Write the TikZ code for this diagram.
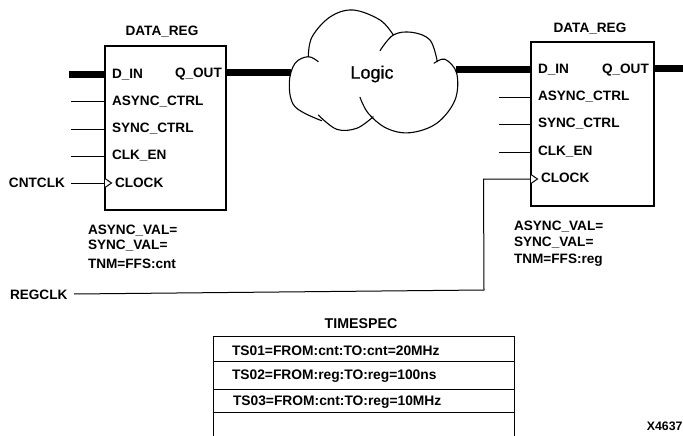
\documentclass[tikz,border=0pt]{standalone}
\usepackage{fontspec}
\setmainfont{Liberation Sans}
\newfontfamily\logicfont[FakeBold=0.6]{Liberation Sans}
\tikzset{
  regbox/.style={draw,line width=1.1pt,inner sep=0pt,outer sep=0pt},
  lbl/.style={inner sep=0pt,outer sep=0pt,anchor=west,font=\fontsize{13.6}{15}\selectfont\bfseries},
  ctr/.style={lbl,anchor=center},
  bus/.style={line width=7pt},
  wire/.style={line width=1pt},
  rowbox/.style={draw,line width=1pt,inner sep=0pt,outer sep=0pt,minimum width=301pt},
  tslbl/.style={inner sep=0pt,outer sep=0pt,anchor=west,font=\fontsize{13.8}{15}\selectfont\bfseries},
  cloudline/.style={line width=1.1pt,line cap=round},
}
\begin{document}
\begin{tikzpicture}[x=1pt,y=-1pt]
\clip (0,0) rectangle (683,436);
\fill[white] (0,0) rectangle (683,436);
% register boxes
\node[regbox,minimum width=121pt,minimum height=164pt] (regA) at (165.5,128) {};
\node[regbox,minimum width=123pt,minimum height=164pt] (regB) at (592.5,124) {};
\node[ctr] (titleA) at (162,32) {DATA\_REG};
\node[ctr] (titleB) at (590,29) {DATA\_REG};
% left register labels
\node[lbl] (aD) at (112,75) {D\_IN};
\node[lbl] (aQ) at (175,74) {Q\_OUT};
\node[lbl] (aA) at (112,102) {ASYNC\_CTRL};
\node[lbl] (aS) at (112,129) {SYNC\_CTRL};
\node[lbl] (aE) at (112,156) {CLK\_EN};
\node[lbl] (aC) at (115,183) {CLOCK};
\node[lbl] (aV1) at (88,231) {ASYNC\_VAL=};
\node[lbl] (aV2) at (88,246) {SYNC\_VAL=};
\node[lbl] (aV3) at (88,264) {TNM=FFS:cnt};
% right register labels
\node[lbl] (bD) at (538,70) {D\_IN};
\node[lbl] (bQ) at (602,70) {Q\_OUT};
\node[lbl] (bA) at (538,97) {ASYNC\_CTRL};
\node[lbl] (bS) at (538,124) {SYNC\_CTRL};
\node[lbl] (bE) at (538,152) {CLK\_EN};
\node[lbl] (bC) at (541,178) {CLOCK};
\node[lbl] (bV1) at (514,227) {ASYNC\_VAL=};
\node[lbl] (bV2) at (514,243) {SYNC\_VAL=};
\node[lbl] (bV3) at (514,260) {TNM=FFS:reg};
% external labels
\node[lbl] (cnt) at (9,183) {CNTCLK};
\node[lbl] (regclk) at (10,295) {REGCLK};
% cloud
\node[inner sep=0pt,font=\fontsize{18}{20}\logicfont] (logic) at (372,74) {Logic};
\coordinate (cloudL) at (291,73);
\coordinate (cloudR) at (456,70);
% buses
\coordinate (inA) at (69,75);
\coordinate (outB) at (683,69);
\draw[bus] (inA) -- (inA -| regA.west);
\draw[bus] (regA.east |- cloudL) -- (cloudL);
\draw[bus] (cloudR) -- (cloudR -| regB.west);
\draw[bus] (regB.east |- outB) -- (outB);
% cloud outline, over the bus ends
\begin{scope}[cloudline]
\draw plot[smooth,tension=.6] coordinates {(308.3,56.7) (312,37) (330,17) (353,10) (380,20) (393.3,35)};
\draw plot[smooth,tension=.6] coordinates {(380,50.7) (393.3,35) (411.7,32.3) (430,40) (437.3,61.7)};
\draw plot[smooth,tension=.6] coordinates {(434,63.3) (445,59.3) (456.7,73.3) (455,100) (436.7,123.3) (410,132.7) (386.7,128.3) (368.3,113.3) (360,97.3)};
\draw plot[smooth,tension=.6] coordinates {(373.3,116.7) (356.7,128.3) (336.7,129.3) (318.3,115)};
\draw plot[smooth,tension=.6] coordinates {(318.3,61.7) (308.3,56.7) (295,63.3) (289.3,83.3) (295,106.7) (321.7,120.7)};
\end{scope}
% control wires
\coordinate (a1) at (71,101.5);
\coordinate (a2) at (71,129);
\coordinate (a3) at (71,156);
\coordinate (a4) at (71,183);
\coordinate (b1) at (499,97.5);
\coordinate (b2) at (499,124.5);
\coordinate (b3) at (499,152);
\foreach \p/\r in {a1/regA,a2/regA,a3/regA,a4/regA,b1/regB,b2/regB,b3/regB}
  \draw[wire] (\p) -- (\p -| \r.west);
% clock wire of the right register
\coordinate (rstart) at (74,294);
\coordinate (bendB) at (484,290);
\coordinate (bendT) at (483.5,179);
\draw[wire] (rstart) -- (bendB) -- (bendT) -- (bendT -| regB.west);
% clock symbols
\draw[wire,fill=white] (regA.west |- 0,178.5) -- (111.5,183) -- (regA.west |- 0,187.5);
\draw[wire,fill=white] (regB.west |- 0,174.5) -- (537.5,179) -- (regB.west |- 0,183.5);
% timespec table
\node[ctr,font=\fontsize{14.2}{15}\selectfont\bfseries] (tsT) at (361,324) {TIMESPEC};
\node[rowbox,minimum height=25pt,anchor=north west] (r1) at (213,336) {};
\node[rowbox,minimum height=28pt,anchor=north] (r2) at (r1.south) {};
\node[rowbox,minimum height=23pt,anchor=north] (r3) at (r2.south) {};
\node[rowbox,minimum height=40pt,anchor=north] (r4) at (r3.south) {};
\node[tslbl] (t1) at (232,351) {TS01=FROM:cnt:TO:cnt=20MHz};
\node[tslbl] (t2) at (232,376) {TS02=FROM:reg:TO:reg=100ns};
\node[tslbl] (t3) at (233,402) {TS03=FROM:cnt:TO:reg=10MHz};
\node[lbl,anchor=east,font=\fontsize{12.3}{14}\selectfont\bfseries] (fig) at (682.5,426) {X4637};
\end{tikzpicture}
\end{document}
